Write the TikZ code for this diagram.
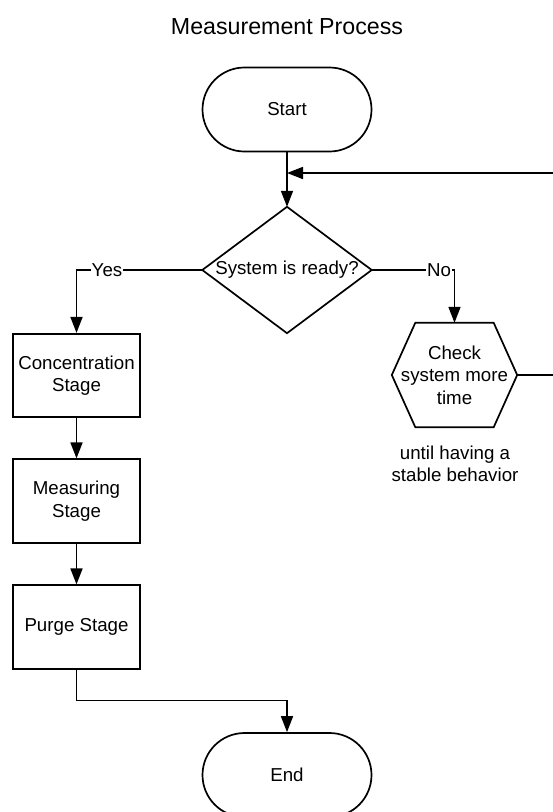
\documentclass[tikz,border=0pt]{standalone}
\usepackage{fontspec}
\setmainfont{Liberation Sans}
\usetikzlibrary{arrows.meta,calc}
\begin{document}
\begin{tikzpicture}[x=1pt,y=1pt,
  every node/.style={font=\fontsize{18.7}{22.5}\selectfont, align=center, inner sep=0pt},
  shp/.style={draw, line width=1.7pt},
  term/.style={shp, rounded corners=42pt, minimum width=169pt, minimum height=84pt},
  stagebox/.style={shp, minimum width=127pt, minimum height=83.5pt},
  arr/.style={line width=1.7pt, -{Triangle[width=12pt,length=16pt]}},
  lbl/.style={fill=white, inner xsep=1pt, inner ysep=2pt}
]
\useasboundingbox (0,0) rectangle (553,-812);
\node (title) at (287,-27) {\fontsize{23.2}{27}\selectfont Measurement Process};
\node[term] (start) at (287,-109.5) {Start};
\node[minimum width=169pt, minimum height=126pt] (dec) at (287,-270) {System is ready?};
\draw[shp, line join=miter] (dec.north) -- (dec.east) -- (dec.south) -- (dec.west) -- cycle;
\node[minimum width=125pt, minimum height=104pt] (chk) at (454.5,-375) {Check\\system more\\time};
\draw[shp, line join=miter] (chk.west) -- ($(chk.north west)+(23.5,0)$) -- ($(chk.north east)+(-23.5,0)$) -- (chk.east) -- ($(chk.south east)+(-23.5,0)$) -- ($(chk.south west)+(23.5,0)$) -- cycle;
\node (note) at (455,-464) {until having a\\stable behavior};
\node[stagebox] (conc) at (76.5,-375.5) {Concentration\\Stage};
\node[stagebox] (meas) at (76.5,-501) {Measuring\\Stage};
\node[stagebox] (purge) at (76.5,-627) {Purge Stage};
\node[term] (end) at (287,-775) {End};
\coordinate (merge) at (287,-173);
\coordinate (loop) at (557,-173);
\coordinate (bend) at (76.5,-700.5);
\draw[arr] (start.south) -- (dec.north);
\draw[arr] (chk.east) -| (loop) -- (merge);
\draw[arr] (dec.west) -| (conc.north);
\draw[arr] (dec.east) -| (chk.north);
\node[lbl] (yes) at (107,-270) {Yes};
\node[lbl] (no) at (439,-270) {No};
\draw[arr] (conc.south) -- (meas.north);
\draw[arr] (meas.south) -- (purge.north);
\draw[arr] (purge.south) -- (bend) -| (end.north);
\end{tikzpicture}
\end{document}
